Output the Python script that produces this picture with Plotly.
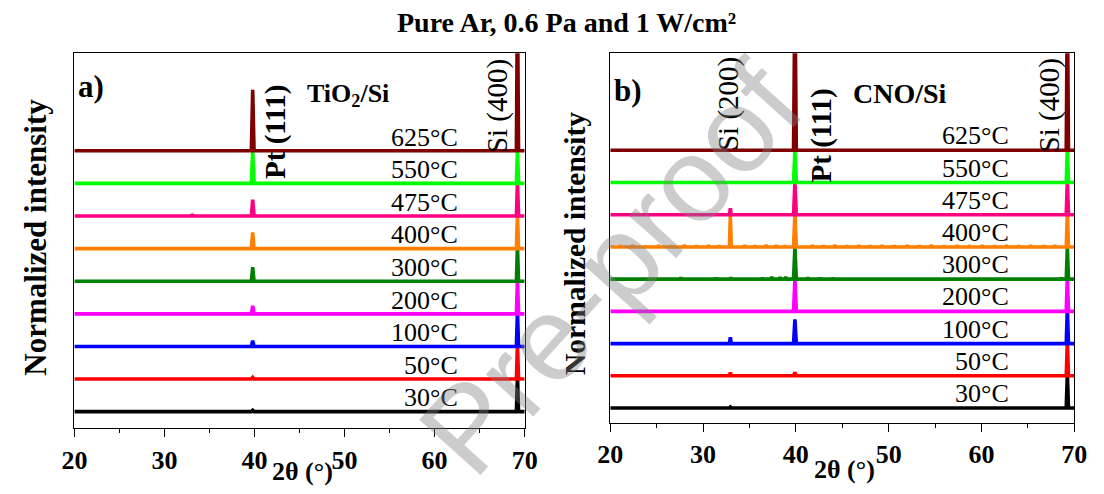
import plotly.graph_objects as go

# ---------------- data ----------------
temperatures = ["30°C", "50°C", "100°C", "200°C", "300°C", "400°C", "475°C", "550°C", "625°C"]

# peak positions (2θ, degrees)
a_pt111_pos = 39.8
a_si400_pos = 69.2
a_si200_pos = 33.1
b_pt111_pos = 39.9
b_si400_pos = 69.26
b_si200_pos = 32.94

# normalized peak heights for each temperature (same order as temperatures)
a_pt111_height = [0.04, 0.05, 0.18, 0.25, 0.43, 0.50, 0.50, 1.00, 1.87]
a_si400_height = [1.10, 1.10, 1.10, 1.10, 1.10, 1.10, 1.10, 1.10, 5.00]
a_si200_height = [0.00, 0.00, 0.00, 0.00, 0.00, 0.00, 0.05, 0.00, 0.00]

b_pt111_height = [0.00, 0.10, 0.75, 1.00, 1.00, 1.05, 1.00, 1.00, 5.00]
b_si400_height = [1.10, 1.10, 1.10, 1.10, 1.00, 1.10, 1.10, 1.10, 5.00]
b_si200_height = [0.03, 0.10, 0.20, 0.00, 0.00, 1.00, 0.20, 0.00, 0.00]

# small noise spikes on the CNO 400°C and 300°C patterns
b_noise_400_pos = [21.0, 22.4, 23.8, 25.2, 26.6, 28.0, 29.3, 30.6, 31.7, 34.5, 35.6, 36.8, 37.9, 38.8,
                   41.8, 43.0, 44.2, 45.5, 46.8, 48.0, 49.3, 50.6, 52.0, 53.3, 54.6, 56.0, 57.4,
                   58.7, 60.1, 61.4, 62.7, 64.0, 65.3, 66.7, 67.9]
b_noise_400_h = [0.05, 0.06, 0.04, 0.06, 0.05, 0.07, 0.05, 0.06, 0.05, 0.06, 0.05, 0.07, 0.06, 0.05,
                 0.06, 0.05, 0.07, 0.05, 0.06, 0.05, 0.06, 0.05, 0.06, 0.05, 0.07, 0.05, 0.06,
                 0.05, 0.06, 0.05, 0.06, 0.05, 0.06, 0.05, 0.06]
b_noise_300_pos = [27.6, 31.4, 33.0, 36.4, 37.4, 38.3, 38.9, 41.3, 42.6, 44.0, 68.6]
b_noise_300_h = [0.06, 0.05, 0.06, 0.05, 0.08, 0.07, 0.08, 0.06, 0.05, 0.05, 0.05]

colors = ["#000000", "#ff0000", "#0000ff", "#ff00ff", "#008000", "#ff8000", "#ff0080", "#00ff00", "#800000"]

X_MIN, X_MAX = 20, 70
FONT = "Liberation Serif"


def pattern(peaks, offset):
    """Polyline through baseline and listed peaks (pos, height, halfwidth)."""
    pts = [(X_MIN, 0.0), (X_MAX, 0.0)]
    for pos, h, w in peaks:
        if h <= 0:
            continue
        pts += [(pos - w, 0.0), (pos, h), (pos + w, 0.0)]
    pts.sort(key=lambda p: p[0])
    return [p[0] for p in pts], [p[1] + offset for p in pts]


fig = go.Figure()

for i, t in enumerate(temperatures):
    peaks = [(a_si200_pos, a_si200_height[i], 0.1),
             (a_pt111_pos, a_pt111_height[i], 0.15),
             (a_si400_pos, a_si400_height[i], 0.12)]
    x, y = pattern(peaks, i)
    fig.add_trace(go.Scatter(x=x, y=y, mode="lines", line=dict(color=colors[i], width=3.6),
                             name=t, showlegend=False, xaxis="x", yaxis="y"))

for i, t in enumerate(temperatures):
    peaks = [(b_si200_pos, b_si200_height[i], 0.1),
             (b_pt111_pos, b_pt111_height[i], 0.15),
             (b_si400_pos, b_si400_height[i], 0.12)]
    if t == "400°C":
        peaks += [(p, h, 0.05) for p, h in zip(b_noise_400_pos, b_noise_400_h)]
    if t == "300°C":
        peaks += [(p, h, 0.05) for p, h in zip(b_noise_300_pos, b_noise_300_h)]
    x, y = pattern(peaks, i)
    fig.add_trace(go.Scatter(x=x, y=y, mode="lines", line=dict(color=colors[i], width=3.6),
                             name=t, showlegend=False, xaxis="x2", yaxis="y2"))

# page has an 8px body margin: figure is sized to fill the remaining window
OFF = 8
W, H = 1104 - 2 * OFF, 494 - 2 * OFF


def px(xp):
    return (xp - OFF) / W


def py(yp):
    return 1 - (yp - OFF) / H


xcommon = dict(range=[X_MIN, X_MAX], tickmode="array", tickvals=[20, 30, 40, 50, 60, 70],
               ticks="outside", ticklen=8, tickwidth=1.3, tickcolor="black",
               minor=dict(tickvals=[25, 35, 45, 55, 65], ticks="outside", ticklen=4,
                          tickwidth=1.3, tickcolor="black"),
               showline=True, linecolor="black", linewidth=1.3, mirror=True,
               showgrid=False, zeroline=False,
               tickfont=dict(family=FONT, size=26, color="black", weight="bold"))
ycommon = dict(showticklabels=False, ticks="", showline=True, linecolor="black", linewidth=1.3,
               mirror=True, showgrid=False, zeroline=False)

fig.update_layout(
    width=W, height=H,
    margin=dict(l=0, r=0, t=0, b=0),
    paper_bgcolor="white", plot_bgcolor="white",
    xaxis=dict(domain=[px(62.7), px(524)], anchor="y", **xcommon),
    yaxis=dict(domain=[py(428.3), py(53.3)], range=[-0.51, 10.99], anchor="x", **ycommon),
    xaxis2=dict(domain=[px(611.7), px(1087)], anchor="y2", **xcommon),
    yaxis2=dict(domain=[py(423), py(53.3)], range=[-0.465, 11.01], anchor="x2", **ycommon),
)

ann = []
# title
ann.append(dict(text="<b>Pure Ar, 0.6 Pa and 1 W/cm²</b>", x=px(566.7), y=py(22.5), xref="paper", yref="paper",
                font=dict(size=28)))
# y titles
ann.append(dict(text="<b>Normalized intensity</b>", x=px(22.5), y=py(237.5), xref="paper", yref="paper",
                textangle=-90, font=dict(size=31)))
ann.append(dict(text="<b>Normalized intensity</b>", x=px(575), y=py(243.5), xref="paper", yref="paper",
                textangle=-90, font=dict(size=29.5)))
# x titles
ann.append(dict(text="<b>2θ (°)</b>", x=px(296.4), y=py(471), xref="paper", yref="paper", font=dict(size=26)))
ann.append(dict(text="<b>2θ (°)</b>", x=px(852), y=py(469), xref="paper", yref="paper", font=dict(size=26)))

# panel labels
ann += [
    dict(text="<b>a)</b>", x=21.88, y=9.96, xref="x", yref="y", font=dict(size=31)),
    dict(text="<b>TiO<sub>2</sub>/Si</b>", x=50.37, y=9.7, xref="x", yref="y", font=dict(size=26)),
    dict(text="<b>Pt (111)</b>", x=42.39, y=8.58, xref="x", yref="y", textangle=-90, font=dict(size=29)),
    dict(text="Si (400)", x=67.0, y=9.36, xref="x", yref="y", textangle=-90, font=dict(size=29)),
    dict(text="<b>b)</b>", x=21.93, y=9.86, xref="x2", yref="y2", font=dict(size=31)),
    dict(text="<b>CNO/Si</b>", x=51.24, y=9.77, xref="x2", yref="y2", font=dict(size=28)),
    dict(text="Si (200)", x=32.81, y=9.44, xref="x2", yref="y2", textangle=-90, font=dict(size=29)),
    dict(text="<b>Pt (111)</b>", x=42.75, y=8.47, xref="x2", yref="y2", textangle=-90, font=dict(size=29)),
    dict(text="Si (400)", x=67.31, y=9.4, xref="x2", yref="y2", textangle=-90, font=dict(size=29)),
]
for i, t in enumerate(temperatures):
    ann.append(dict(text=t, x=62.8, y=i + 0.42, xref="x", yref="y", xanchor="right", font=dict(size=26)))
    ann.append(dict(text=t, x=63.2, y=i + 0.45, xref="x2", yref="y2", xanchor="right", font=dict(size=26)))

for a in ann:
    a.setdefault("showarrow", False)
    a.setdefault("xanchor", "center")
    a.setdefault("yanchor", "middle")
    f = a.setdefault("font", {})
    f.setdefault("family", FONT)
    f.setdefault("color", "black")

# watermark
ann.append(dict(text="Pre-proof", x=px(612), y=py(268), xref="paper", yref="paper", showarrow=False,
                textangle=-48, font=dict(family="Liberation Sans", size=120, color="rgba(128,128,128,0.4)"),
                xanchor="center", yanchor="middle"))

fig.update_layout(annotations=ann)
fig.write_html("out.html")
